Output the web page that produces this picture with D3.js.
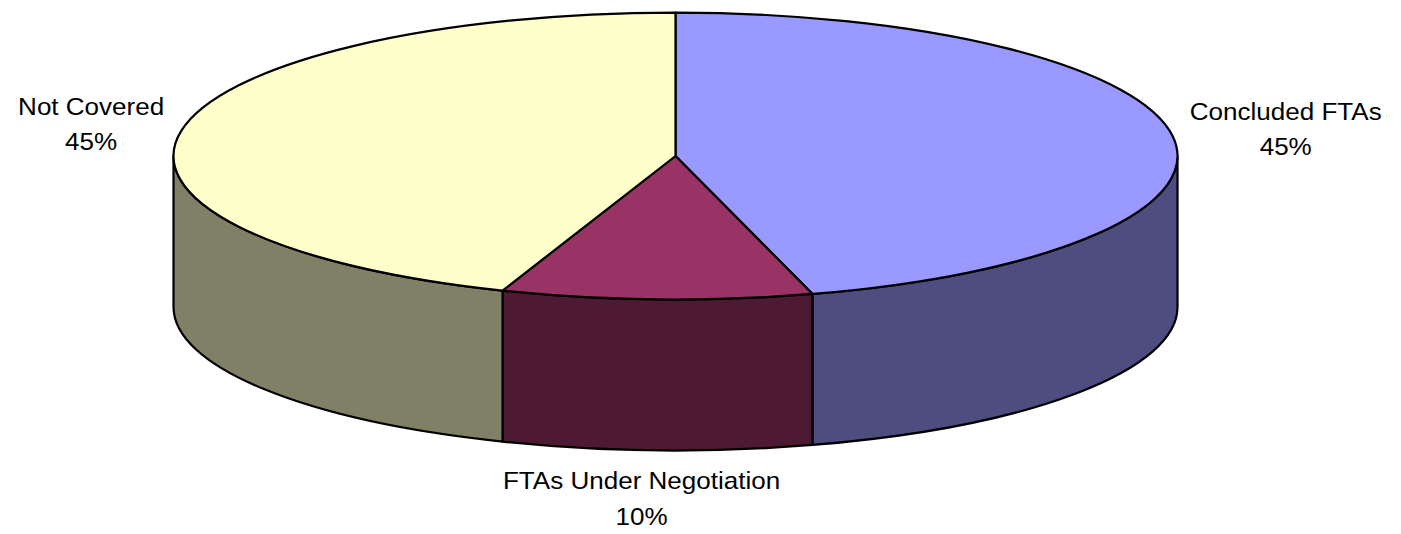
<!DOCTYPE html>
<html>
<head>
<meta charset="utf-8">
<script src="https://cdn.jsdelivr.net/npm/d3@7"></script>
<style>
  html, body { margin: 0; padding: 0; background: #ffffff; }
  svg { display: block; }
  text { font-family: "Liberation Sans", Arial, Helvetica, sans-serif; fill: #000; }
</style>
</head>
<body>
<svg id="chart" width="1401" height="534"></svg>
<script>
// ---- data ----
const categories = ["Concluded FTAs", "FTAs Under Negotiation", "Not Covered"];
const values = [45.6, 10.0, 44.4];
const percentLabels = ["45%", "10%", "45%"];
const topColors = ["#9999FF", "#993366", "#FFFFCC"];
const sideColors = ["#4D4D80", "#4D1933", "#808066"];

// ---- layout ----
const W = 1401, H = 534;
const cx = 675.5, cy = 156, rx = 502, ry = 143.4, depth = 151;
const fontSize = 24, scaleX = 1.085, lineGap = 35.5;
const strokeW = 2.2;

const svg = d3.select("#chart");

const pie = d3.pie().sort(null).value(d => d).startAngle(0).endAngle(2 * Math.PI);
const arcs = pie(values);

// angle -> ellipse point (clockwise from 12 o'clock)
const px = a => cx + rx * Math.sin(a);
const py = a => cy - ry * Math.cos(a);

function topPath(a0, a1) {
  const large = (a1 - a0) > Math.PI ? 1 : 0;
  return `M${cx},${cy} L${px(a0)},${py(a0)} A${rx},${ry} 0 ${large} 1 ${px(a1)},${py(a1)} Z`;
}
function sidePath(s, e) {
  return `M${px(s)},${py(s)} A${rx},${ry} 0 0 1 ${px(e)},${py(e)} ` +
         `L${px(e)},${py(e) + depth} A${rx},${ry} 0 0 0 ${px(s)},${py(s) + depth} Z`;
}

const g = svg.append("g");

// side walls (visible front half: PI/2 .. 3PI/2)
arcs.forEach((d, i) => {
  const s = Math.max(d.startAngle, Math.PI / 2);
  const e = Math.min(d.endAngle, 3 * Math.PI / 2);
  if (e > s) {
    g.append("path")
      .attr("d", sidePath(s, e))
      .attr("fill", sideColors[i])
      .attr("stroke", "#000")
      .attr("stroke-width", strokeW)
      .attr("stroke-linejoin", "round");
  }
});

// top faces
arcs.forEach((d, i) => {
  g.append("path")
    .attr("d", topPath(d.startAngle, d.endAngle))
    .attr("fill", topColors[i])
    .attr("stroke", "#000")
    .attr("stroke-width", strokeW)
    .attr("stroke-linejoin", "round");
});

// labels
arcs.forEach((d, i) => {
  const mid = (d.startAngle + d.endAngle) / 2;
  const s = Math.sin(mid), c = Math.cos(mid);
  const lg = svg.append("g");
  const t1 = lg.append("text").attr("text-anchor", "middle").attr("font-size", fontSize)
    .attr("x", 0).attr("y", 0).text(categories[i]);
  const t2 = lg.append("text").attr("text-anchor", "middle").attr("font-size", fontSize)
    .attr("x", 0).attr("y", lineGap).text(percentLabels[i]);
  const w = Math.max(t1.node().getComputedTextLength(), t2.node().getComputedTextLength()) * scaleX;
  let X, Y;
  const ax = px(mid), ay = py(mid);
  if (Math.abs(s) > 0.5) {
    const gap = 17;
    X = ax + Math.sign(s) * (gap + w / 2);
    Y = ay - 8 - (lineGap - 17) / 2 + 1;
  } else {
    X = ax - 15;
    Y = (c < 0 ? ay + depth + 20 + 19 : ay - 20 - lineGap);
  }
  lg.attr("transform", `translate(${X},${Y}) scale(${scaleX},1)`);
});
</script>
</body>
</html>
